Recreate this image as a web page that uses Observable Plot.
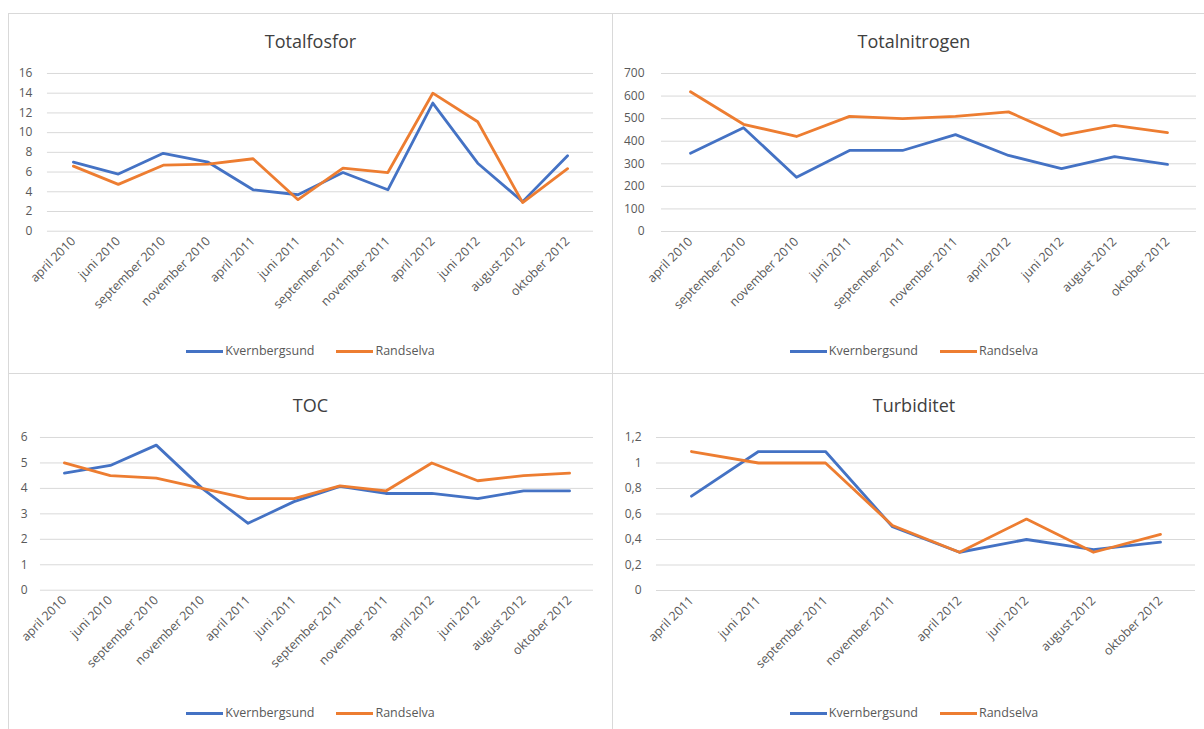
<!DOCTYPE html>
<html>
<head>
<meta charset="utf-8">
<script src="https://cdn.jsdelivr.net/npm/d3@7"></script>
<script src="https://cdn.jsdelivr.net/npm/@observablehq/plot@0.6"></script>
<style>
  html, body { margin: 0; padding: 0; background: #fff; width: 1204px; height: 729px; overflow: hidden; font-family: "Open Sans", "Liberation Sans", sans-serif; }
  .panel { position: absolute; box-sizing: border-box; border: 1px solid #d9d9d9; background: #fff; }
  .title { position: absolute; left: 0; width: 100%; text-align: center; font-size: 18px; color: #404040; line-height: 22px; }
  .legend { position: absolute; left: 0; width: 100%; display: flex; justify-content: center; align-items: center; font-size: 12.5px; color: #595959; line-height: 16px; }
  .legend .item { display: flex; align-items: center; margin: 0 11px; }
  .legend .sw { width: 37px; height: 3px; margin-right: 2px; }
  .chart { position: absolute; }
</style>
</head>
<body>
<script>
// ---- Data ----
const seriesNames = ["Kvernbergsund", "Randselva"];
const seriesColors = ["#4472C4", "#ED7D31"];

const fosforCats = ["april 2010", "juni 2010", "september 2010", "november 2010", "april 2011", "juni 2011", "september 2011", "november 2011", "april 2012", "juni 2012", "august 2012", "oktober 2012"];
const fosforKvern = [7.0, 5.8, 7.9, 7.0, 4.2, 3.7, 5.95, 4.2, 13.0, 6.9, 3.0, 7.65];
const fosforRand  = [6.6, 4.75, 6.7, 6.8, 7.35, 3.2, 6.4, 5.95, 14.0, 11.1, 2.9, 6.35];
const fosforTicks = [0, 2, 4, 6, 8, 10, 12, 14, 16];

const nitroCats = ["april 2010", "september 2010", "november 2010", "juni 2011", "september 2011", "november 2011", "april 2012", "juni 2012", "august 2012", "oktober 2012"];
const nitroKvern = [347, 460, 240, 359, 359, 429, 337, 279, 332, 297];
const nitroRand  = [619, 475, 421, 510, 500, 510, 530, 426, 470, 438];
const nitroTicks = [0, 100, 200, 300, 400, 500, 600, 700];

const tocCats = ["april 2010", "juni 2010", "september 2010", "november 2010", "april 2011", "juni 2011", "september 2011", "november 2011", "april 2012", "juni 2012", "august 2012", "oktober 2012"];
const tocKvern = [4.6, 4.9, 5.7, 4.0, 2.63, 3.48, 4.08, 3.8, 3.8, 3.6, 3.9, 3.9];
const tocRand  = [5.0, 4.5, 4.4, 4.0, 3.6, 3.6, 4.1, 3.9, 5.0, 4.3, 4.5, 4.6];
const tocTicks = [0, 1, 2, 3, 4, 5, 6];

const turbCats = ["april 2011", "juni 2011", "september 2011", "november 2011", "april 2012", "juni 2012", "august 2012", "oktober 2012"];
const turbKvern = [0.74, 1.09, 1.09, 0.5, 0.3, 0.4, 0.32, 0.38];
const turbRand  = [1.09, 1.0, 1.0, 0.51, 0.3, 0.56, 0.3, 0.44];
const turbTicks = [0, 0.2, 0.4, 0.6, 0.8, 1.0, 1.2];

const commaFmt = d => String(+d.toFixed(1)).replace(".", ",");

function makePanel(cfg) {
  const panel = document.createElement("div");
  panel.className = "panel";
  Object.assign(panel.style, { left: cfg.left + "px", top: cfg.top + "px", width: cfg.pw + "px", height: cfg.ph + "px" });
  document.body.appendChild(panel);

  const title = document.createElement("div");
  title.className = "title";
  title.textContent = cfg.title;
  title.style.top = (cfg.titleY - cfg.top - 11) + "px";
  panel.appendChild(title);

  const data = [];
  cfg.cats.forEach((c, i) => {
    data.push({ cat: c, v: cfg.kvern[i], s: seriesNames[0] });
    data.push({ cat: c, v: cfg.rand[i], s: seriesNames[1] });
  });

  const svgLeft = cfg.left, svgTop = cfg.svgTop;
  const width = cfg.svgW, height = cfg.svgH;
  const chart = Plot.plot({
    width, height,
    marginLeft: cfg.frameL - svgLeft,
    marginRight: svgLeft + width - cfg.frameR,
    marginTop: cfg.yTopPx - svgTop,
    marginBottom: svgTop + height - cfg.y0px,
    style: { fontFamily: '"Open Sans", "Liberation Sans", sans-serif', fontSize: "11px", color: "#595959", background: "transparent" },
    x: { type: "point", domain: cfg.cats, padding: 0.5 },
    y: { domain: [0, cfg.ticks[cfg.ticks.length - 1]] },
    color: { domain: seriesNames, range: seriesColors },
    marks: [
      Plot.ruleY(cfg.ticks, { stroke: "#d9d9d9", strokeWidth: 1 }),
      Plot.axisY({ ticks: cfg.ticks, tickSize: 0, tickPadding: cfg.yPad, tickFormat: cfg.fmt || (d => String(d)), fill: "#595959", fontSize: 12, label: null }),
      Plot.axisX({ tickSize: 0, tickPadding: 8, tickRotate: -45, fill: "#595959", fontSize: 12.5, label: null }),
      Plot.line(data, { x: "cat", y: "v", z: "s", stroke: "s", strokeWidth: 2.8, strokeLinejoin: "round", strokeLinecap: "round" })
    ]
  });
  chart.classList.add("chart");
  chart.style.left = (svgLeft - cfg.left - 1) + "px";
  chart.style.top = (svgTop - cfg.top - 1) + "px";
  panel.appendChild(chart);

  const legend = document.createElement("div");
  legend.className = "legend";
  legend.style.top = (cfg.legendY - cfg.top - 8) + "px";
  seriesNames.forEach((n, i) => {
    const it = document.createElement("div");
    it.className = "item";
    const sw = document.createElement("div");
    sw.className = "sw";
    sw.style.background = seriesColors[i];
    const tx = document.createElement("span");
    tx.textContent = n;
    it.appendChild(sw); it.appendChild(tx);
    legend.appendChild(it);
  });
  panel.appendChild(legend);
}

makePanel({ title: "Totalfosfor", cats: fosforCats, kvern: fosforKvern, rand: fosforRand, ticks: fosforTicks,
  left: 8, top: 13, pw: 605, ph: 361, titleY: 40, legendY: 350,
  svgTop: 60, svgW: 604, svgH: 280, frameL: 47, frameR: 594, yTopPx: 73, y0px: 231, yPad: 15 });

makePanel({ title: "Totalnitrogen", cats: nitroCats, kvern: nitroKvern, rand: nitroRand, ticks: nitroTicks,
  left: 612, top: 13, pw: 604, ph: 361, titleY: 40, legendY: 350,
  svgTop: 60, svgW: 592, svgH: 280, frameL: 661, frameR: 1196, yTopPx: 73, y0px: 231, yPad: 17 });

makePanel({ title: "TOC", cats: tocCats, kvern: tocKvern, rand: tocRand, ticks: tocTicks,
  left: 8, top: 373, pw: 605, ph: 370, titleY: 404, legendY: 712,
  svgTop: 424, svgW: 604, svgH: 280, frameL: 40, frameR: 594, yTopPx: 437, y0px: 590, yPad: 13 });

makePanel({ title: "Turbiditet", cats: turbCats, kvern: turbKvern, rand: turbRand, ticks: turbTicks, fmt: commaFmt,
  left: 612, top: 373, pw: 604, ph: 370, titleY: 404, legendY: 712,
  svgTop: 424, svgW: 592, svgH: 280, frameL: 656, frameR: 1195, yTopPx: 437, y0px: 590, yPad: 15 });
</script>
</body>
</html>
